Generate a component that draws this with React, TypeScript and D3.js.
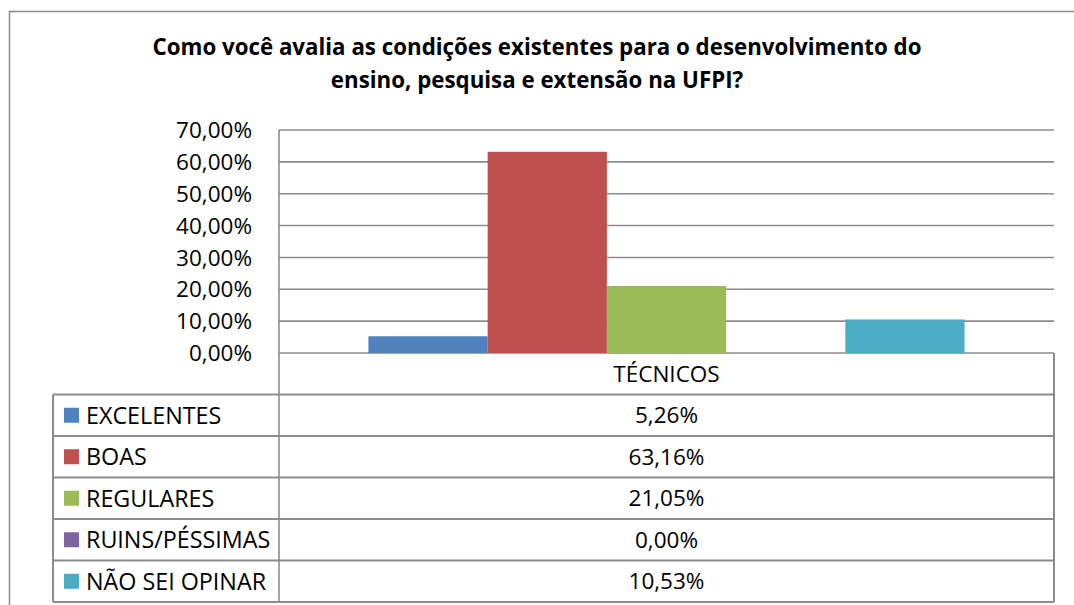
import React from "react";
import * as d3 from "d3";

const titleLines = [
  "Como você avalia as condições existentes para o desenvolvimento do",
  "ensino, pesquisa e extensão na UFPI?",
];
const category = "TÉCNICOS";
const seriesNames = ["EXCELENTES", "BOAS", "REGULARES", "RUINS/PÉSSIMAS", "NÃO SEI OPINAR"];
const seriesValues = [0.0526, 0.6316, 0.2105, 0.0, 0.1053];
const seriesColors = ["#4F81BD", "#C0504D", "#9BBB59", "#8064A2", "#4BACC6"];
const yTicks = [0, 0.1, 0.2, 0.3, 0.4, 0.5, 0.6, 0.7];

const fmtPct = (v: number) => (v * 100).toFixed(2).replace(".", ",") + "%";

export default function App() {
  const W = 1074;
  const H = 605;
  const plotL = 279;
  const plotR = 1054;
  const plotT = 130;
  const plotB = 353;
  const legendL = 53;
  const rowH = (602 - plotB) / 6;
  const font = "'Open Sans', 'Noto Sans', sans-serif";
  const grid = "#8C8C8C";

  const y = d3.scaleLinear().domain([0, 0.7]).range([plotB, plotT]);
  const xCat = d3.scaleBand().domain([category]).range([plotL, plotR]).padding(0);
  const xSer = d3
    .scaleBand()
    .domain(seriesNames)
    .range([xCat(category)!, xCat(category)! + xCat.bandwidth()])
    .paddingInner(0)
    .paddingOuter(0.75);

  const catCenter = xCat(category)! + xCat.bandwidth() / 2;

  return (
    <svg
      width={W}
      height={H}
      style={{ position: "absolute", left: 0, top: 0, background: "#fff" }}
    >
      <rect x={0} y={0} width={W} height={H} fill="#fff" />
      {/* outer chart border */}
      <rect x={9.5} y={11.5} width={1100} height={700} fill="none" stroke="#898989" strokeWidth={1.5} />

      {/* title */}
      {titleLines.map((t, i) => (
        <text
          key={i}
          x={W / 2}
          y={55 + i * 33}
          textAnchor="middle"
          fontFamily={font}
          fontWeight="bold"
          fontSize={22.3}
          fill="#000"
        >
          {t}
        </text>
      ))}

      {/* gridlines */}
      {yTicks.map((t) => (
        <line key={t} x1={plotL} x2={plotR} y1={y(t)} y2={y(t)} stroke={grid} strokeWidth={1.6} />
      ))}
      {/* y axis line */}
      <line x1={plotL} x2={plotL} y1={plotT} y2={602} stroke={grid} strokeWidth={1.6} />

      {/* y tick labels */}
      {yTicks.map((t) => (
        <text
          key={"l" + t}
          x={252}
          y={y(t)}
          dy="0.36em"
          textAnchor="end"
          fontFamily={font}
          fontSize={22.5}
          fill="#000"
        >
          {fmtPct(t)}
        </text>
      ))}

      {/* bars */}
      {seriesNames.map((s, i) => (
        <rect
          key={s}
          x={xSer(s)!}
          y={y(seriesValues[i])}
          width={xSer.bandwidth()}
          height={plotB - y(seriesValues[i])}
          fill={seriesColors[i]}
        />
      ))}

      {/* data table */}
      <line x1={plotR} x2={plotR} y1={plotB} y2={602} stroke={grid} strokeWidth={2} />
      <line x1={legendL} x2={legendL} y1={plotB + rowH} y2={602} stroke={grid} strokeWidth={2} />
      {d3.range(1, 7).map((r) => (
        <line
          key={"r" + r}
          x1={legendL}
          x2={plotR}
          y1={plotB + r * rowH}
          y2={plotB + r * rowH}
          stroke={grid}
          strokeWidth={2}
        />
      ))}
      <text
        x={catCenter}
        y={plotB + rowH / 2}
        dy="0.36em"
        textAnchor="middle"
        fontFamily={font}
        fontSize={22.5}
        fill="#000"
      >
        {category}
      </text>
      {seriesNames.map((s, i) => {
        const cy = plotB + (i + 1.5) * rowH;
        return (
          <g key={"row" + s}>
            <rect x={64} y={cy - 7.5} width={15} height={15} fill={seriesColors[i]} />
            <text x={86} y={cy} dy="0.36em" fontFamily={font} fontSize={23.3} fill="#000">
              {s}
            </text>
            <text
              x={catCenter}
              y={cy}
              dy="0.36em"
              textAnchor="middle"
              fontFamily={font}
              fontSize={22.5}
              fill="#000"
            >
              {fmtPct(seriesValues[i])}
            </text>
          </g>
        );
      })}
    </svg>
  );
}
